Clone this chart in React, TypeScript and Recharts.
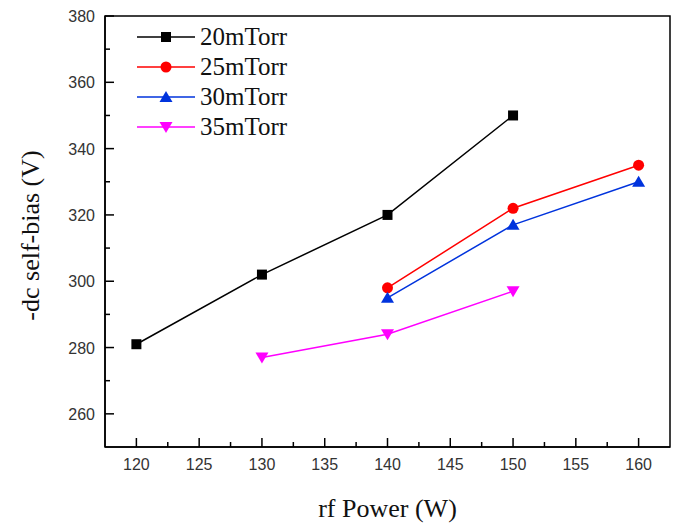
import { LineChart, Line, XAxis, YAxis, ReferenceArea } from 'recharts';

// rf power (W) and -dc self-bias (V) for each pressure
const power20 = [120, 130, 140, 150];
const bias20 = [281, 302, 320, 350];
const power25 = [140, 150, 160];
const bias25 = [298, 322, 335];
const power30 = [140, 150, 160];
const bias30 = [295, 317, 330];
const power35 = [130, 140, 150];
const bias35 = [277, 284, 297];

const seriesNames = ['20mTorr', '25mTorr', '30mTorr', '35mTorr'];

const xMajorTicks = [120, 125, 130, 135, 140, 145, 150, 155, 160];
const xMinorTicks = [122.5, 127.5, 132.5, 137.5, 142.5, 147.5, 152.5, 157.5];
const yMajorTicks = [260, 280, 300, 320, 340, 360, 380];
const yMinorTicks = [270, 290, 310, 330, 350, 370];

const xDomain = [117.5, 162.5];
const yDomain = [250, 380];

type Shape = 'square' | 'circle' | 'triangle' | 'triangleDown';

const toRows = (xs: number[], ys: number[]) =>
    xs.map((p, i) => ({ power: p, bias: ys[i] }));

const series = [
    { name: seriesNames[0], data: toRows(power20, bias20), color: '#000000', shape: 'square' as Shape },
    { name: seriesNames[1], data: toRows(power25, bias25), color: '#ff0000', shape: 'circle' as Shape },
    { name: seriesNames[2], data: toRows(power30, bias30), color: '#0033dd', shape: 'triangle' as Shape },
    { name: seriesNames[3], data: toRows(power35, bias35), color: '#ff00ff', shape: 'triangleDown' as Shape },
];

const tickFont = '"Liberation Sans", Arial, sans-serif';
const titleFont = '"Liberation Serif", "Times New Roman", serif';

function Marker({ cx, cy, shape, color }: { cx: number; cy: number; shape: Shape; color: string }) {
    if (shape === 'square') {
        return <rect x={cx - 5} y={cy - 5} width={10} height={10} fill={color} />;
    }
    if (shape === 'circle') {
        return <circle cx={cx} cy={cy} r={5.5} fill={color} />;
    }
    if (shape === 'triangle') {
        return <polygon points={`${cx},${cy - 6} ${cx + 6.5},${cy + 5} ${cx - 6.5},${cy + 5}`} fill={color} />;
    }
    return <polygon points={`${cx},${cy + 6} ${cx + 6.5},${cy - 5} ${cx - 6.5},${cy - 5}`} fill={color} />;
}

function XTick(props: any) {
    const { x, y, payload } = props;
    const major = xMajorTicks.includes(payload.value);
    return (
        <g>
            <line x1={x} x2={x} y1={y} y2={y - (major ? 9 : 5)} stroke="#000" strokeWidth={1.5} />
            {major && (
                <text x={x} y={y + 23} textAnchor="middle" fontFamily={tickFont} fontSize={16} fill="#333">
                    {payload.value}
                </text>
            )}
        </g>
    );
}

function YTick(props: any) {
    const { x, y, payload } = props;
    const major = yMajorTicks.includes(payload.value);
    return (
        <g>
            <line x1={x} x2={x + (major ? 9 : 5)} y1={y} y2={y} stroke="#000" strokeWidth={1.5} />
            {major && (
                <text x={x - 10} y={y + 6} textAnchor="end" fontFamily={tickFont} fontSize={16} fill="#333">
                    {payload.value}
                </text>
            )}
        </g>
    );
}

function ChartLegend() {
    return (
        <svg
            width={220}
            height={130}
            style={{ position: 'absolute', left: 130, top: 20 }}
        >
            {series.map((s, i) => {
                const cy = 17 + i * 30;
                return (
                    <g key={s.name}>
                        <line x1={7} x2={65} y1={cy} y2={cy} stroke={s.color} strokeWidth={1.5} />
                        <Marker cx={36} cy={cy} shape={s.shape} color={s.color} />
                        <text x={70} y={cy + 8} fontFamily={titleFont} fontSize={25} fill="#111">
                            {s.name}
                        </text>
                    </g>
                );
            })}
        </svg>
    );
}

export default function App() {
    return (
        <div style={{ position: 'absolute', left: 0, top: 0, width: 678, height: 524, background: '#fff' }}>
            <LineChart width={678} height={524} margin={{ top: 16, right: 8, left: 0, bottom: 0 }}>
                <XAxis
                    dataKey="power"
                    type="number"
                    domain={xDomain}
                    ticks={[...xMajorTicks, ...xMinorTicks].sort((a, b) => a - b)}
                    interval={0}
                    height={77}
                    tickSize={0}
                    tickMargin={0}
                    tickLine={false}
                    tick={<XTick />}
                    axisLine={{ stroke: '#000', strokeWidth: 1.5 }}
                    label={{
                        content: (p: any) => {
                            const vb = p.viewBox;
                            return (
                                <text
                                    x={vb.x + vb.width / 2}
                                    y={vb.y + 70}
                                    textAnchor="middle"
                                    fontFamily={titleFont}
                                    fontSize={26}
                                    fill="#111"
                                >
                                    rf Power (W)
                                </text>
                            );
                        },
                    }}
                />
                <YAxis
                    dataKey="bias"
                    type="number"
                    domain={yDomain}
                    ticks={[...yMajorTicks, ...yMinorTicks].sort((a, b) => a - b)}
                    interval={0}
                    width={105}
                    tickSize={0}
                    tickMargin={0}
                    tickLine={false}
                    tick={<YTick />}
                    axisLine={{ stroke: '#000', strokeWidth: 1.5 }}
                    label={{
                        content: (p: any) => {
                            const vb = p.viewBox;
                            const cx = vb.x + 30;
                            const cy = vb.y + vb.height / 2 + 4;
                            return (
                                <text
                                    x={cx}
                                    y={cy}
                                    transform={`rotate(-90 ${cx} ${cy})`}
                                    textAnchor="middle"
                                    dominantBaseline="central"
                                    fontFamily={titleFont}
                                    fontSize={26}
                                    fill="#111"
                                >
                                    -dc self-bias (V)
                                </text>
                            );
                        },
                    }}
                />
                <ReferenceArea
                    x1={xDomain[0]}
                    x2={xDomain[1]}
                    y1={yDomain[0]}
                    y2={yDomain[1]}
                    fill="none"
                    fillOpacity={0}
                    stroke="#000"
                    strokeWidth={1.5}
                />
                {series.map((s) => (
                    <Line
                        key={s.name}
                        data={s.data}
                        dataKey="bias"
                        name={s.name}
                        type="linear"
                        stroke={s.color}
                        strokeWidth={1.5}
                        isAnimationActive={false}
                        dot={(p: any) => (
                            <Marker key={`${s.name}-${p.index}`} cx={p.cx} cy={p.cy} shape={s.shape} color={s.color} />
                        )}
                        activeDot={false}
                    />
                ))}
            </LineChart>
            <ChartLegend />
        </div>
    );
}
